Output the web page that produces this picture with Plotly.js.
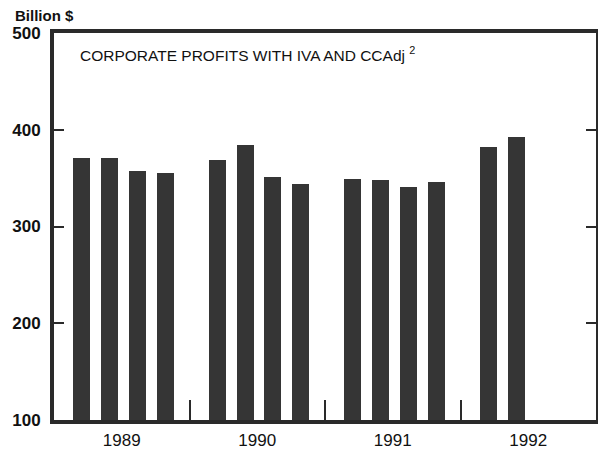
<!DOCTYPE html>
<html>
<head>
<meta charset="utf-8">
<script src="https://cdn.plot.ly/plotly-3.0.1.min.js"></script>
<style>
  html, body { margin: 0; padding: 0; background: #fff; }
  #chart { width: 598px; height: 455px; }
</style>
</head>
<body>
<div id="chart"></div>
<script>
// quarterly corporate profits, billion $
const years = [1989, 1989, 1989, 1989, 1990, 1990, 1990, 1990, 1991, 1991, 1991, 1991, 1992, 1992];
const quarters = [1, 2, 3, 4, 1, 2, 3, 4, 1, 2, 3, 4, 1, 2];
const profits = [371, 371, 357, 355, 369, 384, 351, 344, 349, 348, 341, 346, 382, 392];

const yearLabels = ["1989", "1990", "1991", "1992"];
const yTicks = [100, 200, 300, 400, 500];

// bars sit in each year with a gap before the next year
const xPos = years.map((y, i) => y + quarters[i] * 0.205);

const ink = "#2a2a2a";
const font = "Liberation Sans, Arial, sans-serif";

Plotly.newPlot("chart", [
  {
    type: "bar",
    x: xPos,
    y: profits,
    width: 0.125,
    marker: { color: "#353535", line: { width: 0 } },
    hoverinfo: "y"
  },
  {
    type: "scatter",
    mode: "markers",
    x: [1989.5],
    y: [0],
    xaxis: "x2",
    marker: { opacity: 0 },
    hoverinfo: "skip"
  }
], {
  width: 598,
  height: 455,
  paper_bgcolor: "#fff",
  plot_bgcolor: "#fff",
  margin: { l: 54, r: 2, t: 33, b: 35 },
  showlegend: false,
  bargap: 0,
  xaxis: {
    range: [1989, 1993],
    tickvals: [1990, 1991, 1992],
    showticklabels: false,
    ticks: "inside",
    ticklen: 20,
    tickwidth: 2,
    tickcolor: ink,
    showgrid: false,
    zeroline: false,
    showline: true,
    mirror: true,
    linewidth: 4,
    linecolor: ink
  },
  xaxis2: {
    overlaying: "x",
    range: [1989, 1993],
    tickvals: [1989.5, 1990.5, 1991.5, 1992.5],
    ticktext: yearLabels,
    ticks: "",
    showgrid: false,
    zeroline: false,
    showline: false,
    ticklabelstandoff: 8,
    tickfont: { family: font, size: 17, color: "#111" }
  },
  yaxis: {
    range: [100, 500],
    tickvals: yTicks,
    ticks: "inside",
    ticklen: 10,
    tickwidth: 2,
    tickcolor: ink,
    mirror: "ticks",
    showline: true,
    linewidth: 4,
    linecolor: ink,
    showgrid: false,
    zeroline: false,
    ticklabelstandoff: 6,
    tickfont: { family: font, size: 17, color: "#111", weight: "bold" }
  },
  annotations: [
    {
      text: "CORPORATE PROFITS WITH IVA AND CCAdj <sup>2</sup>",
      xref: "paper", yref: "paper",
      x: 0.044, y: 0.945,
      xanchor: "left", yanchor: "middle",
      showarrow: false,
      font: { family: font, size: 15.5, color: "#111" }
    },
    {
      text: "<b>Billion $</b>",
      xref: "paper", yref: "paper",
      x: -0.0756, y: 1.0465,
      xanchor: "left", yanchor: "middle",
      showarrow: false,
      font: { family: font, size: 15, color: "#111" }
    }
  ]
}, { displayModeBar: false, staticPlot: true });
</script>
</body>
</html>
